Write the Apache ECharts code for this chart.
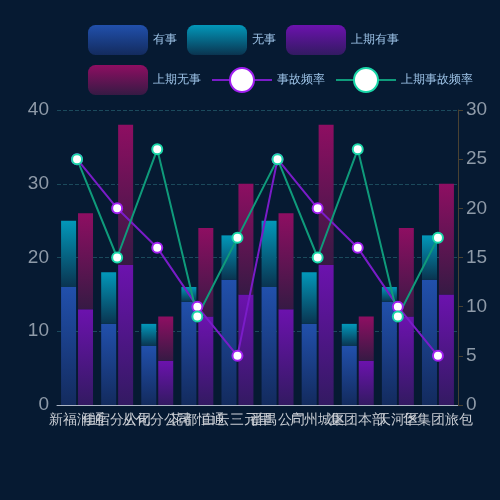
<!DOCTYPE html>
<html>
<head>
<meta charset="utf-8">
<script src="https://cdn.jsdelivr.net/npm/echarts@6/dist/echarts.min.js"></script>
<style>
  html, body { margin: 0; padding: 0; background: #061a32; }
  #main { width: 500px; height: 500px; }
</style>
</head>
<body>
<div id="main"></div>
<script>
// 分类
const categories = ['新福润通', '佳宿分公司', '从化分公司', '花都恒通', '白云三元里', '番禺公司', '广州城区', '集团本部', '天河区', '华集团旅包'];
// 本期
const hasAccident = [16, 11, 8, 14, 17, 16, 11, 8, 14, 17];
const noAccident = [9, 7, 3, 2, 6, 9, 7, 3, 2, 6];
// 上期
const lastHasAccident = [13, 19, 6, 12, 15, 13, 19, 6, 12, 15];
const lastNoAccident = [13, 19, 6, 12, 15, 13, 19, 6, 12, 15];
// 频率
const rate = [25, 20, 16, 10, 5, 25, 20, 16, 10, 5];
const lastRate = [25, 15, 26, 9, 17, 25, 15, 26, 9, 17];

function grad(top, bottom) {
    return new echarts.graphic.LinearGradient(0, 0, 0, 1, [
        { offset: 0, color: top },
        { offset: 1, color: bottom }
    ]);
}

const chart = echarts.init(document.getElementById('main'));

const option = {
    backgroundColor: '#061a32',
    legend: {
        left: 83,
        top: 20,
        width: 395,
        itemWidth: 60,
        itemHeight: 30,
        itemGap: 10,
        textStyle: { color: '#9ec4e8', fontSize: 12 },
        data: ['有事', '无事', '上期有事', '上期无事', '事故频率', '上期事故频率']
    },
    grid: {
        left: 57,
        right: 42,
        top: 110,
        bottom: 95
    },
    xAxis: {
        type: 'category',
        data: categories,
        axisLine: { lineStyle: { color: '#aab4c4' } },
        axisTick: { show: false },
        axisLabel: { interval: 0, color: '#c8ccd2', fontSize: 14 }
    },
    yAxis: [
        {
            type: 'value',
            min: 0,
            max: 40,
            interval: 10,
            axisLine: { show: false },
            axisTick: { show: false },
            axisLabel: { color: '#8e9aa8', fontSize: 19 },
            splitLine: { lineStyle: { color: '#1b4a5c', type: 'dashed' } }
        },
        {
            type: 'value',
            min: 0,
            max: 30,
            interval: 5,
            axisLine: { show: true, lineStyle: { color: '#4a4232' } },
            axisTick: { show: true, length: 5, lineStyle: { color: '#4a4232' } },
            axisLabel: { color: '#8e9aa8', fontSize: 19 },
            splitLine: { show: false }
        }
    ],
    series: [
        {
            name: '有事',
            type: 'bar',
            stack: 'now',
            barWidth: 15,
            barGap: '13%',
            itemStyle: { color: grad('#2150ac', '#132b5e') },
            data: hasAccident
        },
        {
            name: '无事',
            type: 'bar',
            stack: 'now',
            barWidth: 15,
            itemStyle: { color: grad('#0298ba', '#0a3450') },
            data: noAccident
        },
        {
            name: '上期有事',
            type: 'bar',
            stack: 'last',
            barWidth: 15,
            itemStyle: { color: grad('#6c12ae', '#331a62') },
            data: lastHasAccident
        },
        {
            name: '上期无事',
            type: 'bar',
            stack: 'last',
            barWidth: 15,
            itemStyle: { color: grad('#8e0e62', '#361a44') },
            data: lastNoAccident
        },
        {
            name: '事故频率',
            type: 'line',
            yAxisIndex: 1,
            symbol: 'circle',
            symbolSize: 10,
            lineStyle: { color: '#7a1cc8', width: 2 },
            itemStyle: { color: '#fff', borderColor: '#a020f0', borderWidth: 2 },
            data: rate
        },
        {
            name: '上期事故频率',
            type: 'line',
            yAxisIndex: 1,
            symbol: 'circle',
            symbolSize: 10,
            lineStyle: { color: '#0f9b7b', width: 2 },
            itemStyle: { color: '#fff', borderColor: '#1ad6a8', borderWidth: 2 },
            data: lastRate
        }
    ]
};

chart.setOption(option);
</script>
</body>
</html>
